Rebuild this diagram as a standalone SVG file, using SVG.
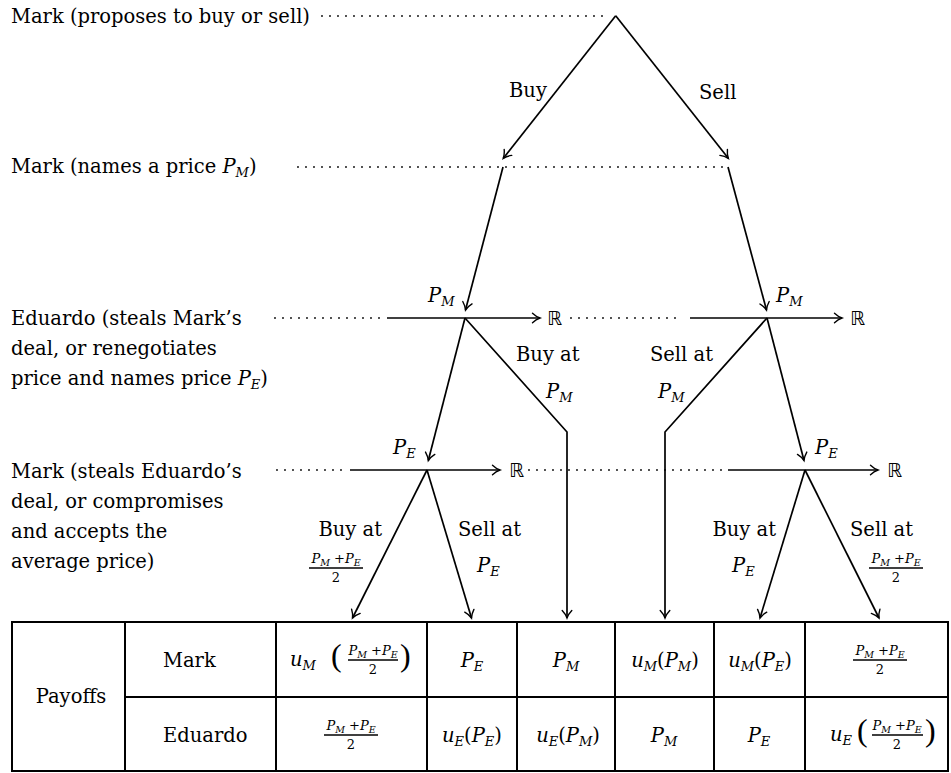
<svg xmlns="http://www.w3.org/2000/svg" width="951" height="773" viewBox="0 0 951 773">
<style>
.t{font-family:"DejaVu Serif",serif;font-size:19.5px;fill:#000}
.i{font-style:italic}
.s{font-style:italic;font-size:13px}
.fn{font-family:"DejaVu Serif",serif;font-size:13px;fill:#000}
.fs{font-style:italic;font-size:9.5px}
.bp{font-family:"Liberation Serif",serif;font-size:32px;fill:#000}
.e{stroke:#000;stroke-width:1.7;fill:none;marker-end:url(#ah)}
.d{stroke:#000;stroke-width:1.8;stroke-dasharray:0 8;stroke-linecap:round;fill:none}
.g{stroke:#000;stroke-width:2;fill:none}
.bar{stroke:#000;stroke-width:1.3}
.R{font-family:"DejaVu Sans",sans-serif;font-size:19px;fill:#000}
</style>
<defs>
<marker id="ah" markerUnits="userSpaceOnUse" markerWidth="14" markerHeight="14" refX="0" refY="0" viewBox="-10 -7 14 14" orient="auto" overflow="visible">
<path d="M-7.5,-4.8 C-5.2,-2.6 -2.2,-0.8 0,0 C-2.2,0.8 -5.2,2.6 -7.5,4.8" stroke="#000" stroke-width="1.4" fill="none" stroke-linecap="round"/>
</marker>
</defs>

<g id="players">
<g id="player-level1"><text class="t" x="11" y="23">Mark (proposes to buy or sell)</text></g>
<g id="player-level2"><text class="t" x="11" y="173">Mark (names a price <tspan class="i">P</tspan><tspan class="s" dy="4">M</tspan><tspan dy="-4">)</tspan></text></g>
<g id="player-level3">
<text class="t" x="11" y="325">Eduardo (steals Mark’s</text>
<text class="t" x="11" y="355">deal, or renegotiates</text>
<text class="t" x="11" y="385">price and names price <tspan class="i">P</tspan><tspan class="s" dy="4">E</tspan><tspan dy="-4">)</tspan></text>
</g>
<g id="player-level4">
<text class="t" x="11" y="478">Mark (steals Eduardo’s</text>
<text class="t" x="11" y="508">deal, or compromises</text>
<text class="t" x="11" y="538">and accepts the</text>
<text class="t" x="11" y="568">average price)</text>
</g>
</g>

<g id="info-lines">
<line class="d" x1="322" y1="16" x2="610" y2="16"/>
<line class="d" x1="298" y1="167" x2="726" y2="167"/>
<line class="d" x1="275" y1="318" x2="381" y2="318"/>
<line class="d" x1="571" y1="318" x2="683" y2="318"/>
<line class="d" x1="277" y1="470" x2="345" y2="470"/>
<line class="d" x1="529" y1="470" x2="722" y2="470"/>
</g>

<g id="node-buy-price">
<line class="e" x1="387" y1="318" x2="540" y2="318"/>
<text class="R" x="547" y="325">ℝ</text>
<text class="t" x="428" y="302"><tspan class="i">P</tspan><tspan class="s" dy="4">M</tspan></text>
</g>
<g id="node-sell-price">
<line class="e" x1="690" y1="318" x2="842" y2="318"/>
<text class="R" x="850" y="325">ℝ</text>
<text class="t" x="776" y="302"><tspan class="i">P</tspan><tspan class="s" dy="4">M</tspan></text>
</g>
<g id="node-buy-counter">
<line class="e" x1="350" y1="470" x2="500" y2="470"/>
<text class="R" x="509" y="477">ℝ</text>
<text class="t" x="393" y="454"><tspan class="i">P</tspan><tspan class="s" dy="4">E</tspan></text>
</g>
<g id="node-sell-counter">
<line class="e" x1="728" y1="470" x2="878" y2="470"/>
<text class="R" x="887" y="477">ℝ</text>
<text class="t" x="815" y="454"><tspan class="i">P</tspan><tspan class="s" dy="4">E</tspan></text>
</g>

<g id="connectors">
<line class="e" x1="615.7" y1="15.7" x2="503.3" y2="158.3"/>
<line class="e" x1="615.7" y1="15.7" x2="728.3" y2="158.3"/>
<line class="e" x1="503" y1="167" x2="465.5" y2="310"/>
<line class="e" x1="728" y1="167" x2="766.5" y2="310"/>
<line class="e" x1="465" y1="318" x2="428.3" y2="460.5"/>
<polyline class="e" points="465,318 567,432 567,618"/>
<polyline class="e" points="767,318 665,432 665,618"/>
<line class="e" x1="767" y1="318" x2="804" y2="460.5"/>
<line class="e" x1="427" y1="470" x2="352.5" y2="618"/>
<line class="e" x1="427" y1="470" x2="471.5" y2="618"/>
<line class="e" x1="805" y1="470" x2="760" y2="618"/>
<line class="e" x1="805" y1="470" x2="879" y2="618"/>
</g>

<g id="edge-labels">
<text class="t" x="509" y="97">Buy</text>
<text class="t" x="699" y="99">Sell</text>
<text class="t" x="516" y="361">Buy at</text>
<text class="t" x="546" y="398"><tspan class="i">P</tspan><tspan class="s" dy="4">M</tspan></text>
<text class="t" x="713" y="361" text-anchor="end">Sell at</text>
<text class="t" x="658" y="398"><tspan class="i">P</tspan><tspan class="s" dy="4">M</tspan></text>
<text class="t" x="382" y="536" text-anchor="end">Buy at</text>
<text class="fn" x="336" y="563" text-anchor="middle"><tspan class="i">P</tspan><tspan class="fs" dy="2.5">M</tspan><tspan dy="-2.5"> +</tspan><tspan class="i">P</tspan><tspan class="fs" dy="2.5">E</tspan></text>
<line class="bar" x1="309" y1="568" x2="363" y2="568"/>
<text class="fn" x="336" y="582" text-anchor="middle">2</text>
<text class="t" x="458" y="536">Sell at</text>
<text class="t" x="477" y="572"><tspan class="i">P</tspan><tspan class="s" dy="4">E</tspan></text>
<text class="t" x="776" y="536" text-anchor="end">Buy at</text>
<text class="t" x="732" y="572"><tspan class="i">P</tspan><tspan class="s" dy="4">E</tspan></text>
<text class="t" x="850" y="536">Sell at</text>
<text class="fn" x="896" y="563" text-anchor="middle"><tspan class="i">P</tspan><tspan class="fs" dy="2.5">M</tspan><tspan dy="-2.5"> +</tspan><tspan class="i">P</tspan><tspan class="fs" dy="2.5">E</tspan></text>
<line class="bar" x1="869" y1="568" x2="923" y2="568"/>
<text class="fn" x="896" y="582" text-anchor="middle">2</text>
</g>

<g id="payoff-table">
<rect class="g" x="12" y="622" width="936" height="149"/>
<line class="g" x1="125" y1="697" x2="948" y2="697"/>
<line class="g" x1="125" y1="622" x2="125" y2="771"/>
<line class="g" x1="276" y1="622" x2="276" y2="771"/>
<line class="g" x1="427" y1="622" x2="427" y2="771"/>
<line class="g" x1="517" y1="622" x2="517" y2="771"/>
<line class="g" x1="615" y1="622" x2="615" y2="771"/>
<line class="g" x1="714" y1="622" x2="714" y2="771"/>
<line class="g" x1="805" y1="622" x2="805" y2="771"/>

<text class="t" x="71" y="703" text-anchor="middle">Payoffs</text>
<text class="t" x="163" y="667">Mark</text>
<text class="t" x="163" y="742">Eduardo</text>

<text class="t" x="290" y="666"><tspan class="i">u</tspan><tspan class="s" dy="4">M</tspan></text>
<text class="bp" x="331" y="666">(</text>
<text class="fn" x="373" y="655" text-anchor="middle"><tspan class="i">P</tspan><tspan class="fs" dy="2.5">M</tspan><tspan dy="-2.5"> +</tspan><tspan class="i">P</tspan><tspan class="fs" dy="2.5">E</tspan></text>
<line class="bar" x1="348" y1="660" x2="398" y2="660"/>
<text class="fn" x="373" y="674" text-anchor="middle">2</text>
<text class="bp" x="400" y="666">)</text>

<text class="t" x="472" y="667" text-anchor="middle"><tspan class="i">P</tspan><tspan class="s" dy="4">E</tspan></text>
<text class="t" x="566" y="667" text-anchor="middle"><tspan class="i">P</tspan><tspan class="s" dy="4">M</tspan></text>
<text class="t" x="665" y="667" text-anchor="middle"><tspan class="i">u</tspan><tspan class="s" dy="4">M</tspan><tspan dy="-4">(</tspan><tspan class="i">P</tspan><tspan class="s" dy="4">M</tspan><tspan dy="-4">)</tspan></text>
<text class="t" x="760" y="667" text-anchor="middle"><tspan class="i">u</tspan><tspan class="s" dy="4">M</tspan><tspan dy="-4">(</tspan><tspan class="i">P</tspan><tspan class="s" dy="4">E</tspan><tspan dy="-4">)</tspan></text>
<text class="fn" x="880" y="655" text-anchor="middle"><tspan class="i">P</tspan><tspan class="fs" dy="2.5">M</tspan><tspan dy="-2.5"> +</tspan><tspan class="i">P</tspan><tspan class="fs" dy="2.5">E</tspan></text>
<line class="bar" x1="853" y1="660" x2="907" y2="660"/>
<text class="fn" x="880" y="674" text-anchor="middle">2</text>

<text class="fn" x="351" y="730" text-anchor="middle"><tspan class="i">P</tspan><tspan class="fs" dy="2.5">M</tspan><tspan dy="-2.5"> +</tspan><tspan class="i">P</tspan><tspan class="fs" dy="2.5">E</tspan></text>
<line class="bar" x1="324" y1="735" x2="378" y2="735"/>
<text class="fn" x="351" y="749" text-anchor="middle">2</text>
<text class="t" x="472" y="742" text-anchor="middle"><tspan class="i">u</tspan><tspan class="s" dy="4">E</tspan><tspan dy="-4">(</tspan><tspan class="i">P</tspan><tspan class="s" dy="4">E</tspan><tspan dy="-4">)</tspan></text>
<text class="t" x="568" y="742" text-anchor="middle"><tspan class="i">u</tspan><tspan class="s" dy="4">E</tspan><tspan dy="-4">(</tspan><tspan class="i">P</tspan><tspan class="s" dy="4">M</tspan><tspan dy="-4">)</tspan></text>
<text class="t" x="664" y="742" text-anchor="middle"><tspan class="i">P</tspan><tspan class="s" dy="4">M</tspan></text>
<text class="t" x="759" y="742" text-anchor="middle"><tspan class="i">P</tspan><tspan class="s" dy="4">E</tspan></text>
<text class="t" x="830" y="741"><tspan class="i">u</tspan><tspan class="s" dy="4">E</tspan></text>
<text class="bp" x="857" y="741">(</text>
<text class="fn" x="897" y="730" text-anchor="middle"><tspan class="i">P</tspan><tspan class="fs" dy="2.5">M</tspan><tspan dy="-2.5"> +</tspan><tspan class="i">P</tspan><tspan class="fs" dy="2.5">E</tspan></text>
<line class="bar" x1="872" y1="735" x2="923" y2="735"/>
<text class="fn" x="897" y="749" text-anchor="middle">2</text>
<text class="bp" x="925" y="741">)</text>
</g>
</svg>
